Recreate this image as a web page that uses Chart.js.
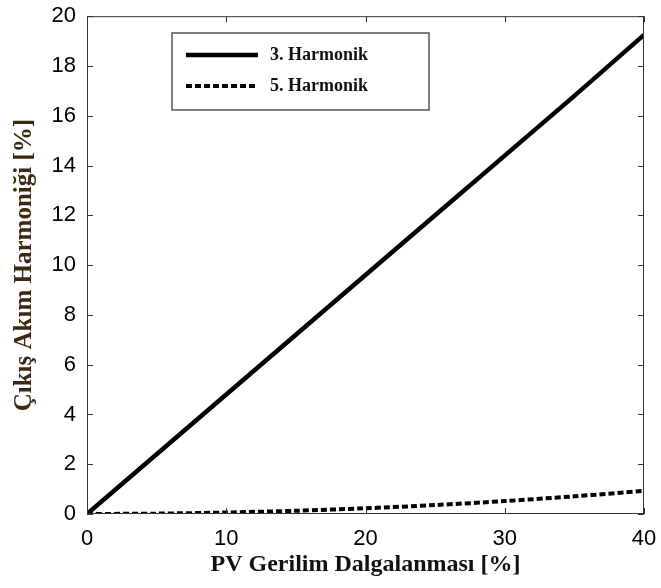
<!DOCTYPE html>
<html>
<head>
<meta charset="utf-8">
<script src="https://cdn.jsdelivr.net/npm/chart.js@4.4.1/dist/chart.umd.min.js"></script>
<style>
  html, body { margin: 0; padding: 0; background: #fff; }
  #wrap { width: 661px; height: 588px; }
</style>
</head>
<body>
<div id="wrap"><canvas id="harmChart" width="661" height="588"></canvas></div>
<script>
// veriler
const ripple = [0, 5, 10, 15, 20, 25, 30, 35, 40];              // PV gerilim dalgalanması [%]
const harm3 = [0, 2.4, 4.8, 7.2, 9.6, 12.0, 14.4, 16.8, 19.25]; // 3. harmonik [%]
const harm5 = [0, 0.015, 0.06, 0.13, 0.23, 0.36, 0.52, 0.71, 0.93]; // 5. harmonik [%]
const xTicks = [0, 10, 20, 30, 40];
const yTicks = [0, 2, 4, 6, 8, 10, 12, 14, 16, 18, 20];

const toPoints = ys => ripple.map((x, i) => ({ x: x, y: ys[i] }));

// MATLAB tarzı çerçeve + içe bakan tik çizgileri
const frameTicks = {
  id: 'frameTicks',
  afterDatasetsDraw(chart) {
    const { ctx, chartArea: a, scales } = chart;
    const len = 6;
    ctx.save();
    ctx.strokeStyle = '#333';
    ctx.lineWidth = 1;
    ctx.strokeRect(a.left + 0.5, a.top + 0.5, a.right - a.left - 1, a.bottom - a.top - 1);
    ctx.beginPath();
    xTicks.forEach(v => {
      const px = Math.round(scales.x.getPixelForValue(v)) + 0.5;
      ctx.moveTo(px, a.bottom); ctx.lineTo(px, a.bottom - len);
      ctx.moveTo(px, a.top); ctx.lineTo(px, a.top + len);
    });
    yTicks.forEach(v => {
      const py = Math.round(scales.y.getPixelForValue(v)) + 0.5;
      ctx.moveTo(a.left, py); ctx.lineTo(a.left + len, py);
      ctx.moveTo(a.right, py); ctx.lineTo(a.right - len, py);
    });
    ctx.stroke();
    ctx.restore();
  }
};

// kutulu lejant (sol üstte)
const boxLegend = {
  id: 'boxLegend',
  afterDraw(chart) {
    const ctx = chart.ctx;
    const bx = 172, by = 33, bw = 257, bh = 77;
    ctx.save();
    ctx.fillStyle = '#fff';
    ctx.fillRect(bx, by, bw, bh);
    ctx.strokeStyle = '#555';
    ctx.lineWidth = 1.5;
    ctx.strokeRect(bx, by, bw, bh);
    const rows = [55, 86];
    chart.data.datasets.forEach((ds, i) => {
      const y = rows[i];
      ctx.beginPath();
      ctx.strokeStyle = ds.borderColor;
      ctx.lineWidth = ds.borderWidth;
      ctx.setLineDash(ds.borderDash || []);
      ctx.moveTo(186, y);
      ctx.lineTo(258, y);
      ctx.stroke();
      ctx.setLineDash([]);
      ctx.fillStyle = '#111';
      ctx.font = 'bold 18px "Liberation Serif", "Times New Roman", serif';
      ctx.textBaseline = 'middle';
      ctx.fillText(ds.label, 270, y);
    });
    ctx.restore();
  }
};

new Chart(document.getElementById('harmChart'), {
  type: 'line',
  data: {
    datasets: [
      {
        label: '3. Harmonik',
        data: toPoints(harm3),
        borderColor: '#000',
        borderWidth: 4.5,
        pointRadius: 0,
        tension: 0
      },
      {
        label: '5. Harmonik',
        data: toPoints(harm5),
        borderColor: '#000',
        borderWidth: 4,
        borderDash: [6, 3],
        pointRadius: 0,
        tension: 0.3
      }
    ]
  },
  options: {
    responsive: false,
    animation: false,
    layout: { padding: { top: 13, right: 17, left: 0, bottom: 0 } },
    plugins: { legend: { display: false }, tooltip: { enabled: false } },
    scales: {
      x: {
        type: 'linear',
        min: 0, max: 40,
        afterFit(s) { s.height = 74; },
        afterBuildTicks(s) { s.ticks = xTicks.map(v => ({ value: v })); },
        grid: { display: false },
        border: { display: false },
        ticks: {
          color: '#000',
          padding: 4,
          font: { family: '"Liberation Sans", Arial, sans-serif', size: 22 }
        },
        title: {
          display: true,
          text: 'PV Gerilim Dalgalanması [%]',
          color: '#111',
          padding: { top: 0, bottom: 9 },
          font: { family: '"Liberation Serif", "Times New Roman", serif', size: 24, weight: 'bold' }
        }
      },
      y: {
        min: 0, max: 20,
        afterFit(s) { s.width = 87; },
        afterBuildTicks(s) { s.ticks = yTicks.map(v => ({ value: v })); },
        grid: { display: false },
        border: { display: false },
        ticks: {
          color: '#000',
          padding: 3,
          font: { family: '"Liberation Sans", Arial, sans-serif', size: 22 }
        },
        title: {
          display: true,
          text: 'Çıkış Akım Harmoniği [%]',
          color: '#3d2812',
          padding: { top: 10, bottom: 0 },
          font: { family: '"Liberation Serif", "Times New Roman", serif', size: 25, weight: 'bold' }
        }
      }
    }
  },
  plugins: [frameTicks, boxLegend]
});
</script>
</body>
</html>
